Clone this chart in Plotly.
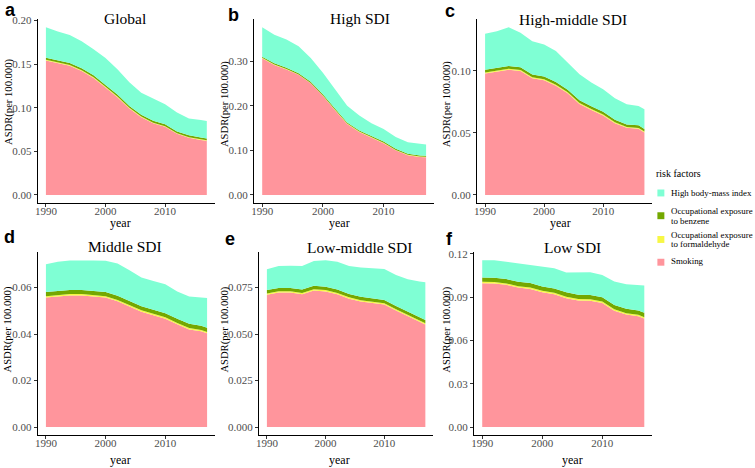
import plotly.graph_objects as go
import numpy as np

YEARS = [1990, 1992, 1994, 1996, 1998, 2000, 2002, 2004, 2006, 2008, 2010, 2012, 2014, 2016, 2017]

PANELS = ["Global", "High SDI", "High-middle SDI", "Middle SDI", "Low-middle SDI", "Low SDI"]
LETTERS = ["a", "b", "c", "d", "e", "f"]
RISKS = ["Smoking", "Occupational exposure to formaldehyde", "Occupational exposure to benzene", "High body-mass index"]

# Global
smoke_a = [.154, .151, .148, .142, .134, .123, .112, .099, .089, .082, .078, .070, .0655, .063, .062]
form_a = [.0009, .0009, .0009, .0009, .0008, .0008, .0008, .0008, .0008, .0008, .0007, .0007, .0007, .0007, .0007]
benz_a = [.0022, .0022, .0022, .0022, .0022, .0022, .0022, .0022, .0022, .0022, .0022, .0021, .0021, .0021, .0021]
bmi_a = [.035, .033, .032, .031, .030, .031, .029, .027, .025, .025, .023, .0217, .0194, .020, .020]

# High SDI
smoke_b = [.306, .291, .281, .269, .250, .222, .190, .159, .141, .128, .116, .100, .089, .085, .0845]
form_b = [.0011, .0011, .0011, .0010, .0010, .0010, .0010, .0009, .0009, .0009, .0009, .0009, .0009, .0009, .0009]
benz_b = [.0027, .0027, .0027, .0027, .0027, .0027, .0027, .0027, .0027, .0026, .0026, .0026, .0026, .0026, .0026]
bmi_b = [.0659, .0643, .0633, .0603, .0533, .0483, .0433, .0373, .0333, .0293, .0283, .0263, .0258, .0263, .0248]

# High-middle SDI
smoke_c = [.0979, .0992, .101, .100, .0941, .0925, .088, .0819, .0733, .0685, .064, .0579, .0541, .0533, .0504]
form_c = [.0008, .0008, .0008, .0008, .0008, .0008, .0008, .0008, .0008, .0008, .0008, .0007, .0007, .0007, .0007]
benz_c = [.0022, .0022, .0022, .0022, .0022, .0022, .0022, .0022, .0022, .0022, .0022, .0021, .0021, .0021, .0021]
bmi_c = [.0291, .0298, .0312, .0277, .0269, .0258, .025, .0218, .021, .0192, .0183, .0172, .0162, .0157, .0159]

# Middle SDI
smoke_d = [.0557, .0563, .0566, .0566, .0563, .0557, .0541, .0519, .0496, .0481, .0466, .0442, .0420, .0412, .0403]
form_d = [.0006, .0006, .0006, .0006, .0006, .0006, .0006, .0006, .0006, .0006, .0006, .0006, .0006, .0006, .0006]
benz_d = [.0018, .0018, .0018, .0018, .0018, .0018, .0018, .0018, .0018, .0018, .0018, .0018, .0018, .0018, .0018]
bmi_d = [.0119, .0124, .0127, .0128, .0130, .0134, .0139, .0132, .0123, .0123, .0124, .0117, .0118, .0121, .0128]

# Low-middle SDI
smoke_e = [.0711, .0723, .0723, .0714, .0734, .0729, .0714, .0690, .0675, .0666, .0658, .0626, .0595, .0565, .0551]
form_e = [.0007, .0007, .0007, .0007, .0007, .0007, .0007, .0007, .0007, .0007, .0007, .0007, .0007, .0007, .0007]
benz_e = [.0018, .0018, .0018, .0018, .0018, .0018, .0018, .0018, .0018, .0018, .0018, .0018, .0018, .0018, .0018]
bmi_e = [.0112, .0117, .0119, .0126, .0133, .0143, .0150, .0150, .0158, .0162, .0166, .0166, .0174, .0192, .0202]

# Low SDI
smoke_f = [.0996, .0994, .0985, .0966, .0957, .0934, .092, .0893, .0877, .0875, .0859, .0806, .0779, .0767, .0751]
form_f = [.0010, .0010, .0010, .0010, .0010, .0010, .0010, .0010, .0010, .0010, .0010, .0010, .0010, .0010, .0010]
benz_f = [.0030, .0030, .0030, .0030, .0030, .0030, .0030, .0030, .0030, .0030, .0030, .0030, .0030, .0030, .0030]
bmi_f = [.012, .0122, .012, .0127, .0125, .0136, .014, .0137, .0155, .0157, .0154, .0162, .017, .0178, .0189]

SERIES = [
    [smoke_a, form_a, benz_a, bmi_a],
    [smoke_b, form_b, benz_b, bmi_b],
    [smoke_c, form_c, benz_c, bmi_c],
    [smoke_d, form_d, benz_d, bmi_d],
    [smoke_e, form_e, benz_e, bmi_e],
    [smoke_f, form_f, benz_f, bmi_f],
]

YTICKS = [
    [0, .05, .10, .15, .20],
    [0, .10, .20, .30],
    [0, .05, .10],
    [0, .02, .04, .06],
    [0, .025, .05, .075],
    [0, .03, .06, .09, .12],
]
YFMT = ["{:.2f}", "{:.2f}", "{:.2f}", "{:.2f}", "{:.3f}", "{:.2f}"]
XTICKS = [1990, 2000, 2010]

COLORS = ["#FF959C", "#F7F745", "#74A800", "#7FFFD4"]

W, H = 755, 468
def px(x):
    return x / W
def py(y):
    return 1 - y / H

# layout geometry (pixels)
XDOM = [(35, 212.7), (252, 433), (476, 652), (35, 213), (257, 432), (473, 652)]
YDOM = [(14, 200.5), (14, 200.5), (14, 200.5), (249.5, 435), (249.5, 435), (249.5, 435)]

SERIF = "Liberation Serif"
fig = go.Figure()
annotations = []
shapes = []

for i in range(6):
    xa = "x" if i == 0 else f"x{i+1}"
    ya = "y" if i == 0 else f"y{i+1}"
    for k in range(4):
        fig.add_trace(go.Scatter(
            x=YEARS, y=SERIES[i][k], xaxis=xa, yaxis=ya,
            mode="lines", line=dict(width=0, color=COLORS[k]),
            fill="tonexty", fillcolor=COLORS[k],
            stackgroup=f"g{i}", name=RISKS[k], showlegend=False,
        ))
    total = np.sum(np.array(SERIES[i]), axis=0)
    m = float(total.max())
    key = "" if i == 0 else str(i + 1)
    x0, x1 = XDOM[i]
    y0, y1 = YDOM[i]
    fig.layout[f"xaxis{key}"] = dict(
        domain=[px(x0), px(x1)], anchor=ya, range=[1988.65, 2018.35],
        showline=True, linecolor="black", linewidth=1.2,
        ticks="outside", ticklen=3, tickcolor="#333333", tickwidth=1,
        tickvals=XTICKS, ticktext=[str(t) for t in XTICKS],
        showgrid=False, zeroline=False, ticklabelstandoff=-6,
        tickfont=dict(family=SERIF, size=11, color="#4D4D4D"),
    )
    fig.layout[f"yaxis{key}"] = dict(
        domain=[py(y1), py(y0)], anchor=xa, range=[-0.05 * m, 1.05 * m],
        showline=True, linecolor="black", linewidth=1.2,
        ticks="outside", ticklen=3, tickcolor="#333333", tickwidth=1,
        tickvals=YTICKS[i], ticktext=[YFMT[i].format(t) for t in YTICKS[i]],
        showgrid=False, zeroline=False,
        tickfont=dict(family=SERIF, size=11, color="#4D4D4D"),
    )

# panel titles
TITLE_POS = [(122, 14), (358, 14), (572, 15), (122, 244), (358, 245), (572, 245)]
for i, (tx, ty) in enumerate(TITLE_POS):
    annotations.append(dict(x=px(tx), y=py(ty), xref="paper", yref="paper", text=PANELS[i],
                            showarrow=False, xanchor="center", yanchor="middle",
                            font=dict(family=SERIF, size=15.5, color="black")))

# panel letters
LET_POS = [(8, 5), (231, 10), (449, 6), (7, 235), (228, 237), (448, 237)]
for i, (lx, ly) in enumerate(LET_POS):
    annotations.append(dict(x=px(lx), y=py(ly), xref="paper", yref="paper", text=f"<b>{LETTERS[i]}</b>",
                            showarrow=False, xanchor="center", yanchor="middle",
                            font=dict(family="Liberation Sans", size=18, color="black")))

# y-axis titles
YT_POS = [(6, 98), (223, 100), (446, 100), (6, 328), (223, 328), (446, 328)]
for (ax_, ay_) in YT_POS:
    annotations.append(dict(x=px(ax_), y=py(ay_), xref="paper", yref="paper", text="ASDR(per 100.000)",
                            showarrow=False, xanchor="center", yanchor="middle", textangle=-90,
                            font=dict(family=SERIF, size=10.6, color="black")))

# x-axis titles
XT_POS = [(118, 220), (338, 220), (560, 220), (118, 460), (338, 460), (572, 460)]
for (ax_, ay_) in XT_POS:
    annotations.append(dict(x=px(ax_), y=py(ay_), xref="paper", yref="paper", text="year",
                            showarrow=False, xanchor="center", yanchor="middle",
                            font=dict(family=SERIF, size=12, color="black")))

# legend (manual)
annotations.append(dict(x=px(654), y=py(170), xref="paper", yref="paper", text="risk factors",
                        showarrow=False, xanchor="left", yanchor="middle",
                        font=dict(family=SERIF, size=10, color="black")))
LEG_ITEMS = [
    (3, 190, ["High body-mass index"], [190]),
    (2, 213, ["Occupational exposure", "to benzene"], [208, 218]),
    (1, 237, ["Occupational exposure", "to formaldehyde"], [232, 242]),
    (0, 260, ["Smoking"], [259]),
]
for k, sy, lines, lys in LEG_ITEMS:
    shapes.append(dict(type="rect", xref="paper", yref="paper",
                       x0=px(657), x1=px(664), y0=py(sy + 3.5), y1=py(sy - 3.5),
                       fillcolor=COLORS[k], line=dict(width=0)))
    for t, ly in zip(lines, lys):
        annotations.append(dict(x=px(669), y=py(ly), xref="paper", yref="paper", text=t,
                                showarrow=False, xanchor="left", yanchor="middle",
                                font=dict(family=SERIF, size=8.9, color="black")))

fig.update_layout(
    width=W, height=H, margin=dict(l=0, r=0, t=0, b=0),
    plot_bgcolor="white", paper_bgcolor="white",
    showlegend=False, annotations=annotations, shapes=shapes,
)

fig.write_html("out.html", config={"displayModeBar": False},
               post_script="document.body.style.margin='0';document.body.style.padding='0';document.body.style.overflow='hidden';")
